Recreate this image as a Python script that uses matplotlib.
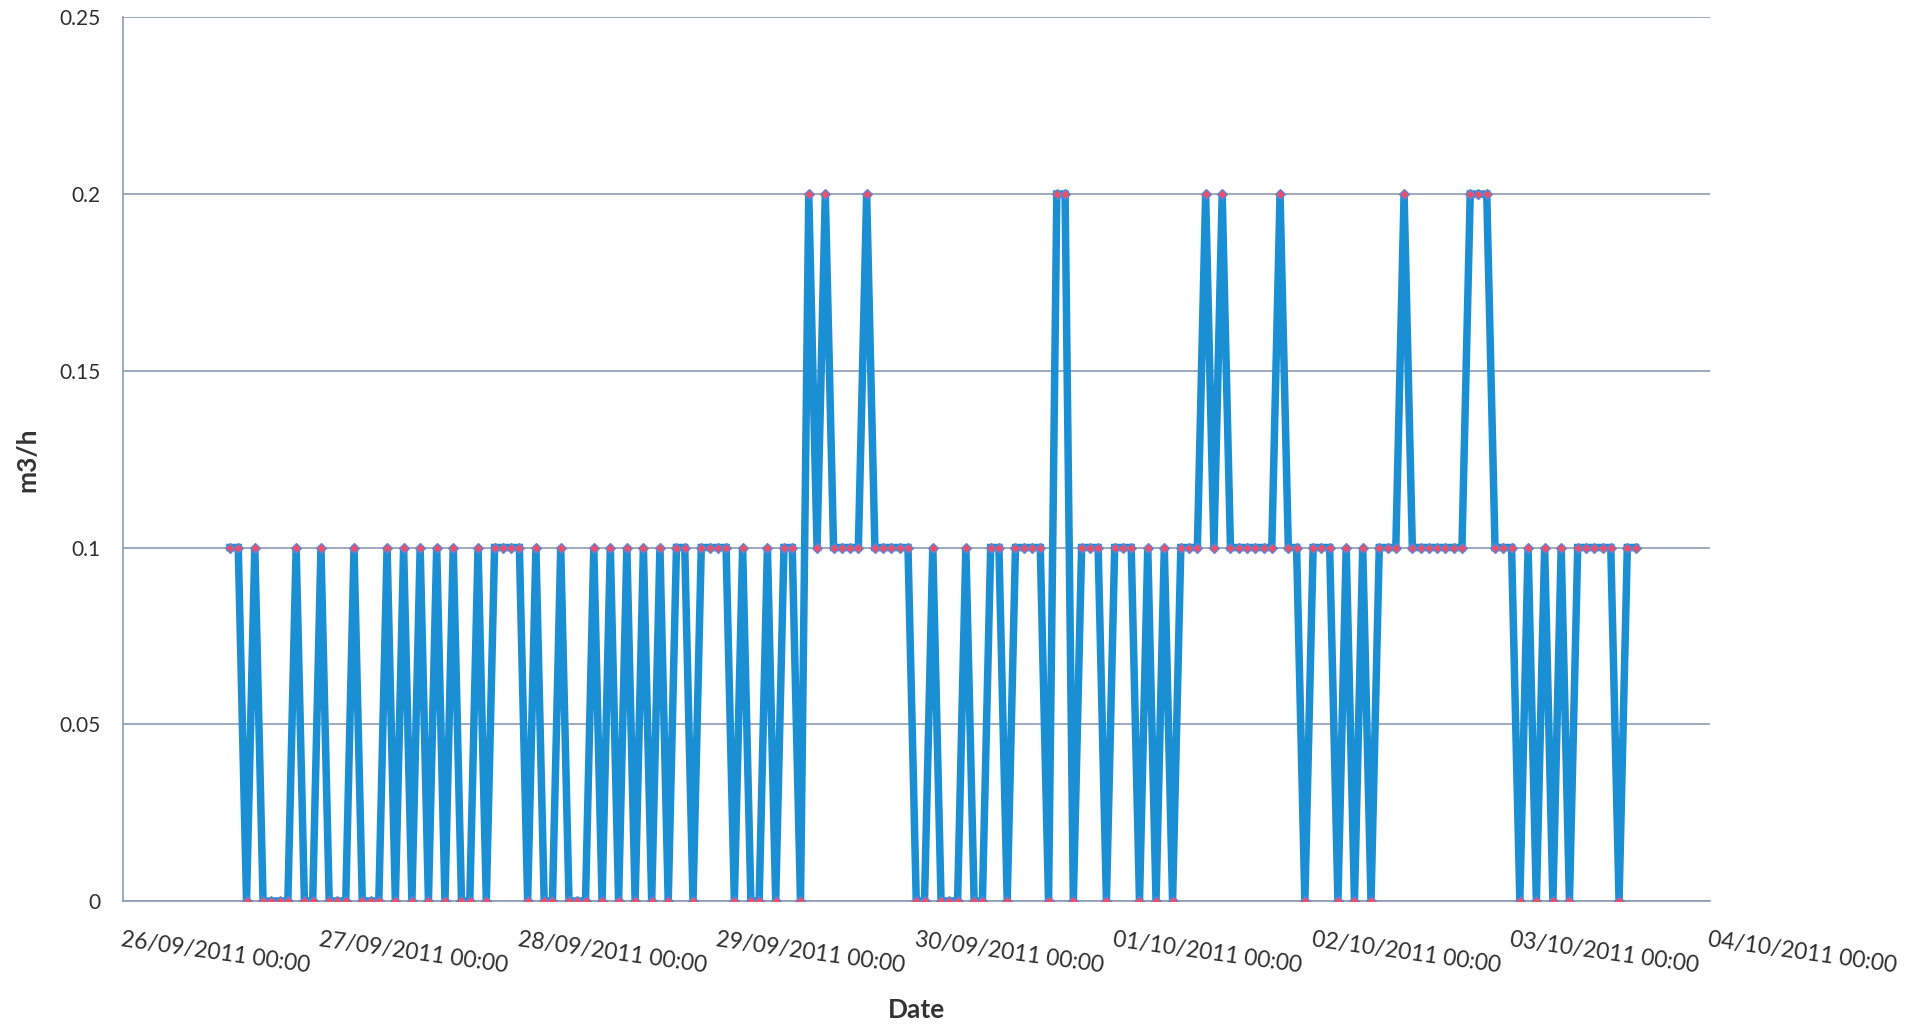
import matplotlib
matplotlib.use("Agg")
import matplotlib.pyplot as plt
import matplotlib.dates as mdates
import numpy as np
import pandas as pd

plt.rcParams['font.family'] = ['Lato', 'DejaVu Sans']

# hourly readings starting 26/09/2011 13:00
start_time = "2011-09-26 13:00"
flow_m3h = [
    0.1, 0.1, 0, 0.1, 0, 0, 0, 0, 0.1, 0,        # 0-9
    0, 0.1, 0, 0, 0, 0.1, 0, 0, 0, 0.1,          # 10-19
    0, 0.1, 0, 0.1, 0, 0.1, 0, 0.1, 0, 0,        # 20-29
    0.1, 0, 0.1, 0.1, 0.1, 0.1, 0, 0.1, 0, 0,    # 30-39
    0.1, 0, 0, 0, 0.1, 0, 0.1, 0, 0.1, 0,        # 40-49
    0.1, 0, 0.1, 0, 0.1, 0.1, 0, 0.1, 0.1, 0.1,  # 50-59
    0.1, 0, 0.1, 0, 0, 0.1, 0, 0.1, 0.1, 0,      # 60-69
    0.2, 0.1, 0.2, 0.1, 0.1, 0.1, 0.1, 0.2, 0.1, 0.1,  # 70-79
    0.1, 0.1, 0.1, 0, 0, 0.1, 0, 0, 0, 0.1,      # 80-89
    0, 0, 0.1, 0.1, 0, 0.1, 0.1, 0.1, 0.1, 0,    # 90-99
    0.2, 0.2, 0, 0.1, 0.1, 0.1, 0, 0.1, 0.1, 0.1,  # 100-109
    0, 0.1, 0, 0.1, 0, 0.1, 0.1, 0.1, 0.2, 0.1,  # 110-119
    0.2, 0.1, 0.1, 0.1, 0.1, 0.1, 0.1, 0.2, 0.1, 0.1,  # 120-129
    0, 0.1, 0.1, 0.1, 0, 0.1, 0, 0.1, 0, 0.1,    # 130-139
    0.1, 0.1, 0.2, 0.1, 0.1, 0.1, 0.1, 0.1, 0.1, 0.1,  # 140-149
    0.2, 0.2, 0.2, 0.1, 0.1, 0.1, 0, 0.1, 0, 0.1,  # 150-159
    0, 0.1, 0, 0.1, 0.1, 0.1, 0.1, 0.1, 0, 0.1,  # 160-169
    0.1,                                          # 170
]
times = pd.date_range(start=start_time, periods=len(flow_m3h), freq="h")

x_start = "2011-09-26"
x_end = "2011-10-04"
y_ticks = [0, 0.05, 0.1, 0.15, 0.2, 0.25]
y_tick_labels = ["0", "0.05", "0.1", "0.15", "0.2", "0.25"]

W, H = 1922, 1028
fig = plt.figure(figsize=(W / 100, H / 100), dpi=100)
fig.patch.set_facecolor("white")
ax = fig.add_axes([122.5 / W, 1 - 901 / H, (1710 - 122.5) / W, (901 - 17.3) / H])

grid_col = "#8c9cb4"
ax.plot(times, flow_m3h, color="#1a8fd4", lw=5.4, solid_joinstyle="miter",
        marker="D", ms=5.5, mfc="#e8506c", mec="#5a86d6", mew=0.9, zorder=3)

ax.set_xlim(pd.Timestamp(x_start), pd.Timestamp(x_end))
ax.set_ylim(0, 0.25)
ax.set_yticks(y_ticks)
ax.set_yticklabels(y_tick_labels)
ax.yaxis.grid(True, color=grid_col, lw=1.2)
ax.set_axisbelow(True)

for s in ["top", "right"]:
    ax.spines[s].set_visible(False)
for s in ["left", "bottom"]:
    ax.spines[s].set_color(grid_col)
    ax.spines[s].set_linewidth(1.2)

ax.xaxis.set_major_locator(mdates.DayLocator())
ax.xaxis.set_major_formatter(mdates.DateFormatter("%d/%m/%Y %H:%M"))
ax.tick_params(axis="both", length=0, colors="#2e2e2e")
ax.tick_params(axis="y", labelsize=15, pad=16)
ax.tick_params(axis="x", labelsize=16.5, pad=20)
for lab in ax.get_xticklabels():
    lab.set_rotation(-8)
    lab.set_rotation_mode("anchor")
    lab.set_ha("left")
    lab.set_va("top")

fig.text(916 / W, 1 - 1010 / H, "Date", ha="center", va="center",
         fontsize=19, fontweight="bold", color="#333333")
fig.text(27 / W, 1 - 460 / H, "m3/h", ha="center", va="center", rotation=90,
         fontsize=19, fontweight="bold", color="#333333")

fig.savefig("out.png", dpi=100, facecolor="white")
